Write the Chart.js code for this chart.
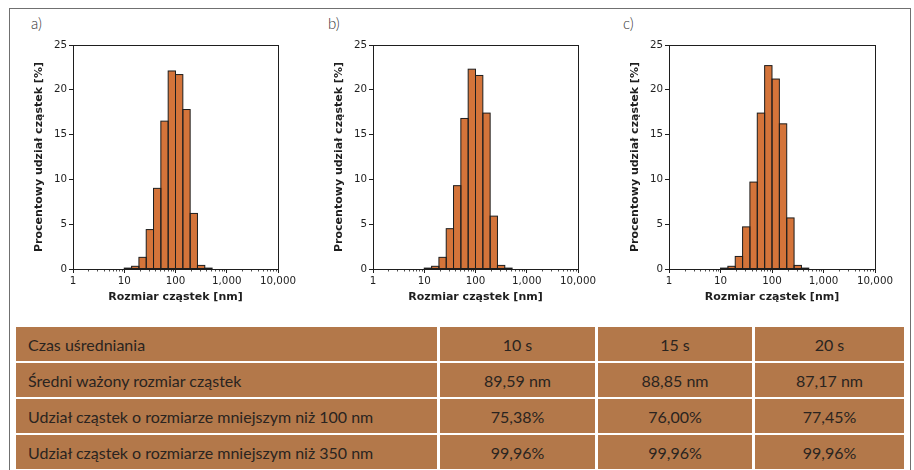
<!DOCTYPE html>
<html>
<head>
<meta charset="utf-8">
<script src="https://cdn.jsdelivr.net/npm/chart.js@4.4.1/dist/chart.umd.min.js"></script>
<style>
  html, body { margin:0; padding:0; background:#fff; }
  #page { position:relative; width:914px; height:470px; overflow:hidden; }
  .frame { position:absolute; left:9px; top:8px; width:900px; height:500px; border:1px solid #707070; }
  .panel { position:absolute; top:30px; }
  .tag { position:absolute; top:15px; font:300 15px/17px Lato, sans-serif; color:#333; }
  .grid { position:absolute; left:16px; top:327px; display:grid;
          grid-template-columns:421px 155px 154px 149px; grid-auto-rows:34px; column-gap:3px; row-gap:2px; }
  .grid div { background:#b3784a; color:#2a2420; font:16px Lato, sans-serif;
              display:flex; align-items:center; justify-content:center; }
  .grid div.lab { justify-content:flex-start; padding-left:12px; }
</style>
</head>
<body>
<div id="page">
  <div class="frame"></div>
  <div class="tag" style="left:31px">a)</div>
  <div class="tag" style="left:328px">b)</div>
  <div class="tag" style="left:623px">c)</div>
  <div class="panel" style="left:33px"><canvas id="chartA" width="270" height="274"></canvas></div>
  <div class="panel" style="left:333px"><canvas id="chartB" width="270" height="274"></canvas></div>
  <div class="panel" style="left:629px"><canvas id="chartC" width="271" height="274"></canvas></div>
  <div class="grid" id="tbl"></div>
</div>
<script>
// histogram bins (geometric centres, 7 bins per decade) and percentages
const sizeBins = [11.8, 16.4, 22.8, 31.6, 43.9, 61.1, 84.8, 117.9, 163.8, 227.6, 316.2, 439.4];
const shareA   = [0.1, 0.3, 1.3, 4.4, 9.0, 16.5, 22.1, 21.7, 17.8, 6.2, 0.4, 0.1];
const shareB   = [0.1, 0.3, 1.3, 4.5, 9.3, 16.8, 22.3, 21.6, 17.4, 5.9, 0.4, 0.1];
const shareC   = [0.1, 0.3, 1.4, 4.7, 9.7, 17.4, 22.7, 21.2, 16.2, 5.7, 0.4, 0.1];
const xMajor   = [1, 10, 100, 1000, 10000];
const yMax = 25, yStep = 5;

// table
const rowLabels = ['Czas uśredniania', 'Średni ważony rozmiar cząstek',
  'Udział cząstek o rozmiarze mniejszym niż 100 nm', 'Udział cząstek o rozmiarze mniejszym niż 350 nm'];
const times    = ['10 s', '15 s', '20 s'];
const meanSize = ['89,59 nm', '88,85 nm', '87,17 nm'];
const under100 = ['75,38%', '76,00%', '77,45%'];
const under350 = ['99,96%', '99,96%', '99,96%'];

const tbl = document.getElementById('tbl');
[times, meanSize, under100, under350].forEach((row, i) => {
  tbl.insertAdjacentHTML('beforeend', `<div class="lab">${rowLabels[i]}</div>` + row.map(v => `<div>${v}</div>`).join(''));
});

const INK = '#1e1e1e';
const isMajor = v => xMajor.includes(v);

// outline each bar centred on its edges (like matplotlib), plus frame and minor ticks
const outlines = {
  id: 'outlines',
  afterDatasetsDraw(chart) {
    const ctx = chart.ctx;
    ctx.save();
    ctx.strokeStyle = INK; ctx.lineWidth = 1;
    chart.getDatasetMeta(0).data.forEach(b => {
      const { x, y, base, width } = b.getProps(['x', 'y', 'base', 'width'], true);
      ctx.strokeRect(x - width / 2, y, width, base - y);
    });
    ctx.restore();
  },
  afterDraw(chart) {
    const { ctx, chartArea: a } = chart;
    const x = chart.scales.x;
    ctx.save();
    ctx.strokeStyle = INK; ctx.lineWidth = 1;
    ctx.strokeRect(Math.round(a.left) + 0.5, Math.round(a.top) + 0.5,
                   Math.round(a.right) - Math.round(a.left), Math.round(a.bottom) - Math.round(a.top));
    ctx.lineWidth = 0.8;
    x.ticks.forEach(t => {
      if (isMajor(t.value)) return;
      const px = Math.round(x.getPixelForValue(t.value)) + 0.5;
      ctx.beginPath(); ctx.moveTo(px, Math.round(a.bottom)); ctx.lineTo(px, Math.round(a.bottom) + 2.5); ctx.stroke();
    });
    ctx.restore();
  }
};

function histChart(id, values) {
  new Chart(document.getElementById(id), {
    type: 'bar',
    data: {
      datasets: [{
        data: sizeBins.map((c, i) => ({ x: c, y: values[i] })),
        backgroundColor: '#d4743a',
        borderWidth: 0,
        barThickness: 'flex', barPercentage: 1, categoryPercentage: 1, inflateAmount: 0
      }]
    },
    options: {
      responsive: false, animation: false,
      layout: { padding: { top: 15, right: 25, bottom: 0, left: 0 } },
      plugins: { legend: { display: false }, tooltip: { enabled: false } },
      scales: {
        x: {
          type: 'logarithmic', min: 1, max: 10000, offset: false,
          afterFit: s => { s.height = 35; },
          afterBuildTicks: s => {
            s.ticks = s.ticks.filter(t => {
              const m = t.value / Math.pow(10, Math.floor(Math.log10(t.value) + 1e-9));
              return Math.abs(m - Math.round(m)) < 1e-6;
            });
          },
          border: { display: false },
          grid: { offset: false, drawOnChartArea: false, tickLength: 4,
                  color: c => (c.tick && isMajor(c.tick.value)) ? INK : 'rgba(0,0,0,0)' },
          ticks: { autoSkip: false, maxRotation: 0, padding: 2, color: INK,
                   font: { family: 'DejaVu Sans', size: 10.3 },
                   callback: v => isMajor(v) ? v.toLocaleString('en-US') : '' },
          title: { display: true, text: 'Rozmiar cząstek [nm]', color: INK, padding: 0,
                   font: { family: 'DejaVu Sans', size: 11, weight: 'bold' } }
        },
        y: {
          min: 0, max: yMax,
          afterFit: s => { s.width = 40; },
          border: { display: false },
          grid: { drawOnChartArea: false, tickLength: 4, color: INK },
          ticks: { stepSize: yStep, padding: 2, color: INK, font: { family: 'DejaVu Sans', size: 10.3 } },
          title: { display: true, text: 'Procentowy udział cząstek [%]', color: INK, padding: 0,
                   font: { family: 'DejaVu Sans', size: 11, weight: 'bold' } }
        }
      }
    },
    plugins: [outlines]
  });
}

histChart('chartA', shareA);
histChart('chartB', shareB);
histChart('chartC', shareC);
</script>
</body>
</html>
